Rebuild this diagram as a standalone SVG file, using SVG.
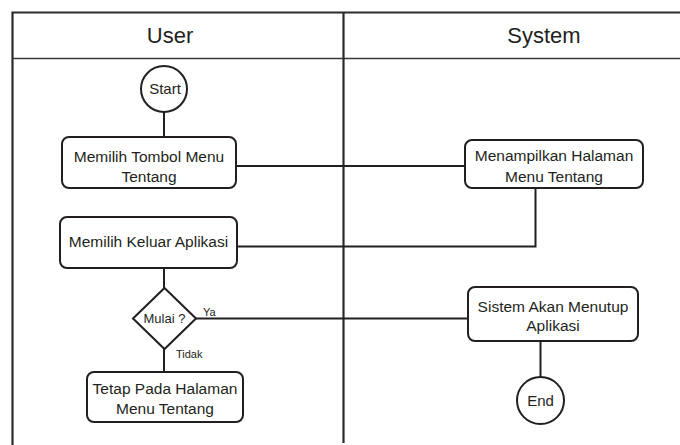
<svg xmlns="http://www.w3.org/2000/svg" width="680" height="445" viewBox="0 0 680 445">
  <style>
    .lane { fill: none; stroke: #2b2b2b; stroke-width: 2.2; }
    .lane-thin { fill: none; stroke: #3a3a3a; stroke-width: 1.6; }
    .shape { fill: #ffffff; stroke: #231f20; stroke-width: 2; }
    .wire { fill: none; stroke: #231f20; stroke-width: 2; }
    text { font-family: "Liberation Sans", Arial, sans-serif; fill: #231f20; text-anchor: middle; }
    .head { font-size: 22px; }
    .lbl { font-size: 15.5px; }
    .term { font-size: 15px; }
    .small { font-size: 11px; text-anchor: start; }
  </style>

  <rect width="680" height="445" fill="#ffffff"/>

  <!-- swimlane frame -->
  <g id="lanes">
    <path class="lane" d="M12.5 445 V12.5 H680"/>
    <path class="lane-thin" d="M12.5 58.5 H680"/>
    <path class="lane" d="M343.5 12.5 V443"/>
    <text class="head" x="170" y="43">User</text>
    <text class="head" x="544" y="43">System</text>
  </g>

  <!-- connectors -->
  <g id="connectors">
    <path class="wire" d="M164 112 V137"/>
    <path class="wire" d="M236 166 H465"/>
    <path class="wire" d="M535.5 188 V246.5 H237"/>
    <path class="wire" d="M164 268 V288"/>
    <path class="wire" d="M196 318.5 H468"/>
    <path class="wire" d="M164 349 V372"/>
    <path class="wire" d="M540.5 341 V377"/>
    <text class="small" x="203" y="316">Ya</text>
    <text class="small" x="176" y="358">Tidak</text>
  </g>

  <g id="start">
    <circle class="shape" cx="164" cy="89" r="23"/>
    <text class="term" x="165" y="94">Start</text>
  </g>

  <g id="pilih-tentang">
    <rect class="shape" x="62" y="137" width="174" height="51" rx="7"/>
    <text class="lbl" x="149" y="161.5">Memilih Tombol Menu</text>
    <text class="lbl" x="149" y="181.5">Tentang</text>
  </g>

  <g id="tampil-tentang">
    <rect class="shape" x="465" y="140" width="178" height="48" rx="7"/>
    <text class="lbl" x="554" y="161">Menampilkan Halaman</text>
    <text class="lbl" x="554" y="181.5">Menu Tentang</text>
  </g>

  <g id="pilih-keluar">
    <rect class="shape" x="60" y="217" width="177" height="51" rx="7"/>
    <text class="lbl" x="148.5" y="247">Memilih Keluar Aplikasi</text>
  </g>

  <g id="mulai">
    <polygon class="shape" points="164.5,288 196,318.5 164.5,349 133,318.5"/>
    <text x="164.5" y="323" style="font-size:13px">Mulai ?</text>
  </g>

  <g id="tetap">
    <rect class="shape" x="87" y="372" width="156" height="50" rx="7"/>
    <text class="lbl" x="165" y="394">Tetap Pada Halaman</text>
    <text class="lbl" x="165" y="413.5">Menu Tentang</text>
  </g>

  <g id="tutup">
    <rect class="shape" x="468" y="287" width="170" height="54" rx="7"/>
    <text class="lbl" x="553" y="311.5">Sistem Akan Menutup</text>
    <text class="lbl" x="553" y="330.5">Aplikasi</text>
  </g>

  <g id="end">
    <circle class="shape" cx="540.5" cy="400.5" r="23.5"/>
    <text class="term" x="540.5" y="406">End</text>
  </g>
</svg>
